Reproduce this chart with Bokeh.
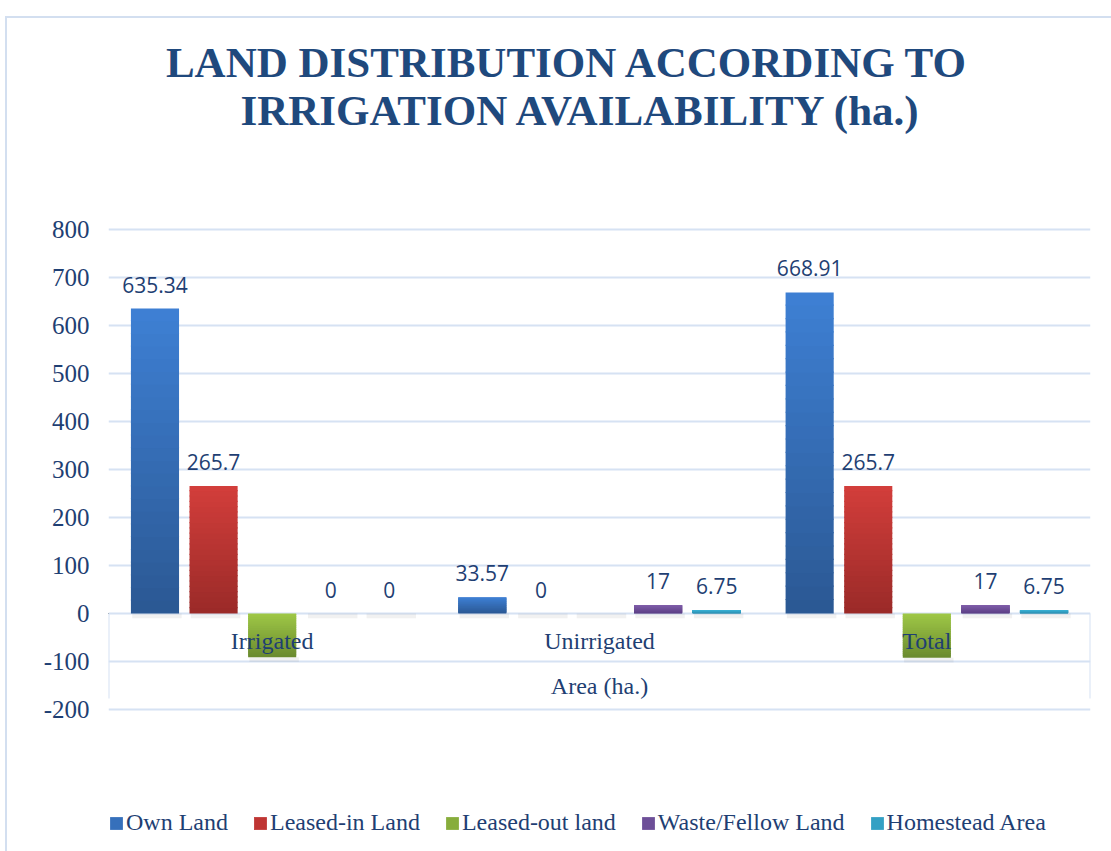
import numpy as np
from bokeh.plotting import figure
from bokeh.models import ColumnDataSource, FixedTicker, Legend, LegendItem, Range1d
from bokeh.embed import file_html
from bokeh.resources import INLINE
from bokeh.core.properties import value

# ---------------- data ----------------
categories = ["Irrigated", "Unirrigated", "Total"]
series = ["Own Land", "Leased-in Land", "Leased-out land", "Waste/Fellow Land", "Homestead Area"]
own_land = [635.34, 33.57, 668.91]
leased_in = [265.7, 0, 265.7]
leased_out = [-91, None, -92]
waste_land = [0, 17, 17]
homestead = [0, 6.75, 6.75]
y_ticks = [-200, -100, 0, 100, 200, 300, 400, 500, 600, 700, 800]
group_label = "Area (ha.)"
title_lines = ["LAND DISTRIBUTION ACCORDING TO", "IRRIGATION AVAILABILITY (ha.)"]

colors_top = ["#3e80d4", "#d33e3b", "#9fc846", "#805da9", "#3bb1d5"]
colors_bottom = ["#2b5893", "#9a2a28", "#6a8a2f", "#5a3e83", "#2a8aac"]
legend_colors = ["#3670bb", "#bf3533", "#87ad3c", "#6d4f98", "#33a0c4"]

TEXT = "#1f3f73"
GRID = "#d6e2f3"
BORDER = "#d3dff0"
SERIF = "Liberation Serif"

all_series = [own_land, leased_in, leased_out, waste_land, homestead]

# ---------------- layout constants (pixels) ----------------
W, H = 1111, 851
frame_left, frame_right = 108, 1090
y_top_px, y_bot_px = 229, 709          # pixel rows of 800 and -200
px_per_unit = (y_bot_px - y_top_px) / (y_ticks[-1] - y_ticks[0])
x_px_per_unit = (frame_right - frame_left) / len(categories)
y_max = y_ticks[-1] + y_top_px / px_per_unit
y_min = y_ticks[0] - (H - y_bot_px) / px_per_unit

def py2y(py):
    return y_ticks[-1] + (y_top_px - py) / px_per_unit

def px2x(px):
    return (px - frame_left) / x_px_per_unit

p = figure(width=W, height=H, x_range=Range1d(0, len(categories)), y_range=Range1d(y_min, y_max),
           output_backend="svg", toolbar_location=None, title=None,
           min_border_left=frame_left, min_border_right=W - frame_right,
           min_border_top=0, min_border_bottom=0)
p.outline_line_color = None
p.background_fill_color = None
p.border_fill_color = None
# light chart-area border (left and top edges), drawn behind the transparent canvas
p.styles = {
    "background-color": "white",
    "background-image": f"linear-gradient({BORDER}, {BORDER}), linear-gradient({BORDER}, {BORDER})",
    "background-position": "5px 16px, 5px 16px",
    "background-size": "2px 100%, 100% 2px",
    "background-repeat": "no-repeat",
}
p.xaxis.visible = False
p.xgrid.visible = False
p.ygrid.ticker = FixedTicker(ticks=y_ticks)
p.ygrid.grid_line_color = GRID
p.ygrid.grid_line_width = 2
p.yaxis.ticker = FixedTicker(ticks=y_ticks)
p.yaxis.major_label_overrides = {t: str(t) for t in y_ticks}
p.yaxis.axis_line_color = None
p.yaxis.major_tick_line_color = None
p.yaxis.minor_tick_line_color = None
p.yaxis.major_label_text_font = SERIF
p.yaxis.major_label_text_font_size = "25px"
p.yaxis.major_label_text_color = TEXT
p.yaxis.major_label_standoff = 13

# table lines of the category axis
ncat = len(categories)
p.segment(x0=[0, ncat], y0=[0, 0], x1=[0, ncat], y1=[-177, -177], line_color=GRID, line_width=2)

# ---------------- bars ----------------
group_step = 0.179
bar_w = 0.147
nslices = 24

def hex2rgb(h):
    return np.array([int(h[i:i + 2], 16) for i in (1, 3, 5)], dtype=float)

def rgb2hex(c):
    return "#%02x%02x%02x" % tuple(int(round(v)) for v in c)

sh = dict(left=[], right=[], bottom=[], top=[])
gq = dict(left=[], right=[], bottom=[], top=[], color=[])
lab = dict(x=[], y=[], text=[])
for j, vals in enumerate(all_series):
    ctop, cbot = hex2rgb(colors_top[j]), hex2rgb(colors_bottom[j])
    for i, v in enumerate(vals):
        xc = i + 0.5 + (j - 2) * group_step
        l, r = xc - bar_w / 2, xc + bar_w / 2
        vv = 0 if v is None else v
        lo, hi = min(0, vv), max(0, vv)
        sh["left"].append(l + 0.004); sh["right"].append(r + 0.008)
        sh["bottom"].append(lo - 10); sh["top"].append(lo)
        if v is None:
            continue
        if hi > lo:
            edges = np.linspace(lo, hi, nslices + 1)
            for k in range(nslices):
                f = (k + 0.5) / nslices
                gq["left"].append(l); gq["right"].append(r)
                gq["bottom"].append(edges[k])
                gq["top"].append(min(edges[k + 1] + 2.5, hi))
                gq["color"].append(rgb2hex(cbot + (ctop - cbot) * f))
        if v >= 0:
            lab["x"].append(xc); lab["y"].append(v)
            lab["text"].append(f"{v:g}")

p.quad(source=ColumnDataSource(sh), left="left", right="right", bottom="bottom", top="top",
       fill_color="#7f7f7f", fill_alpha=0.11, line_color=None)
p.quad(source=ColumnDataSource(gq), left="left", right="right", bottom="bottom", top="top",
       fill_color="color", line_color=None)

p.text(source=ColumnDataSource(lab), x="x", y="y", text="text", text_align="center",
       text_baseline="middle", y_offset=-24, text_font=value("Open Sans"),
       text_font_size="21px", text_color=TEXT)

# category labels and group label
p.text(x=[i + 0.5 for i in range(ncat)], y=[-58] * ncat, text=categories, text_align="center",
       text_baseline="middle", text_font=value(SERIF), text_font_size="24px", text_color=TEXT)
p.text(x=[ncat / 2], y=[-150], text=[group_label], text_align="center", text_baseline="middle",
       text_font=value(SERIF), text_font_size="24px", text_color=TEXT)

# ---------------- title ----------------
p.text(x=[px2x(567), px2x(581)], y=[py2y(62), py2y(110)], text=title_lines,
       text_align="center", text_baseline="middle", text_font=value(SERIF),
       text_font_size="43px", text_font_style="bold", text_color="#1f497d")

# ---------------- legend ----------------
items = []
for s, c in zip(series, legend_colors):
    r = p.vbar(x=[-5], top=[1], bottom=[0], width=0.1, fill_color=c, line_color=None)
    items.append(LegendItem(label=s, renderers=[r]))
legend = Legend(items=items, orientation="horizontal", location=(0, 15),
                label_text_font=SERIF, label_text_font_size="24px", label_text_color=TEXT,
                glyph_width=16, glyph_height=16, label_standoff=2, spacing=24, padding=0,
                border_line_alpha=0, background_fill_alpha=0)
p.add_layout(legend, "center")

open("out.html", "w").write(file_html(p, INLINE))
